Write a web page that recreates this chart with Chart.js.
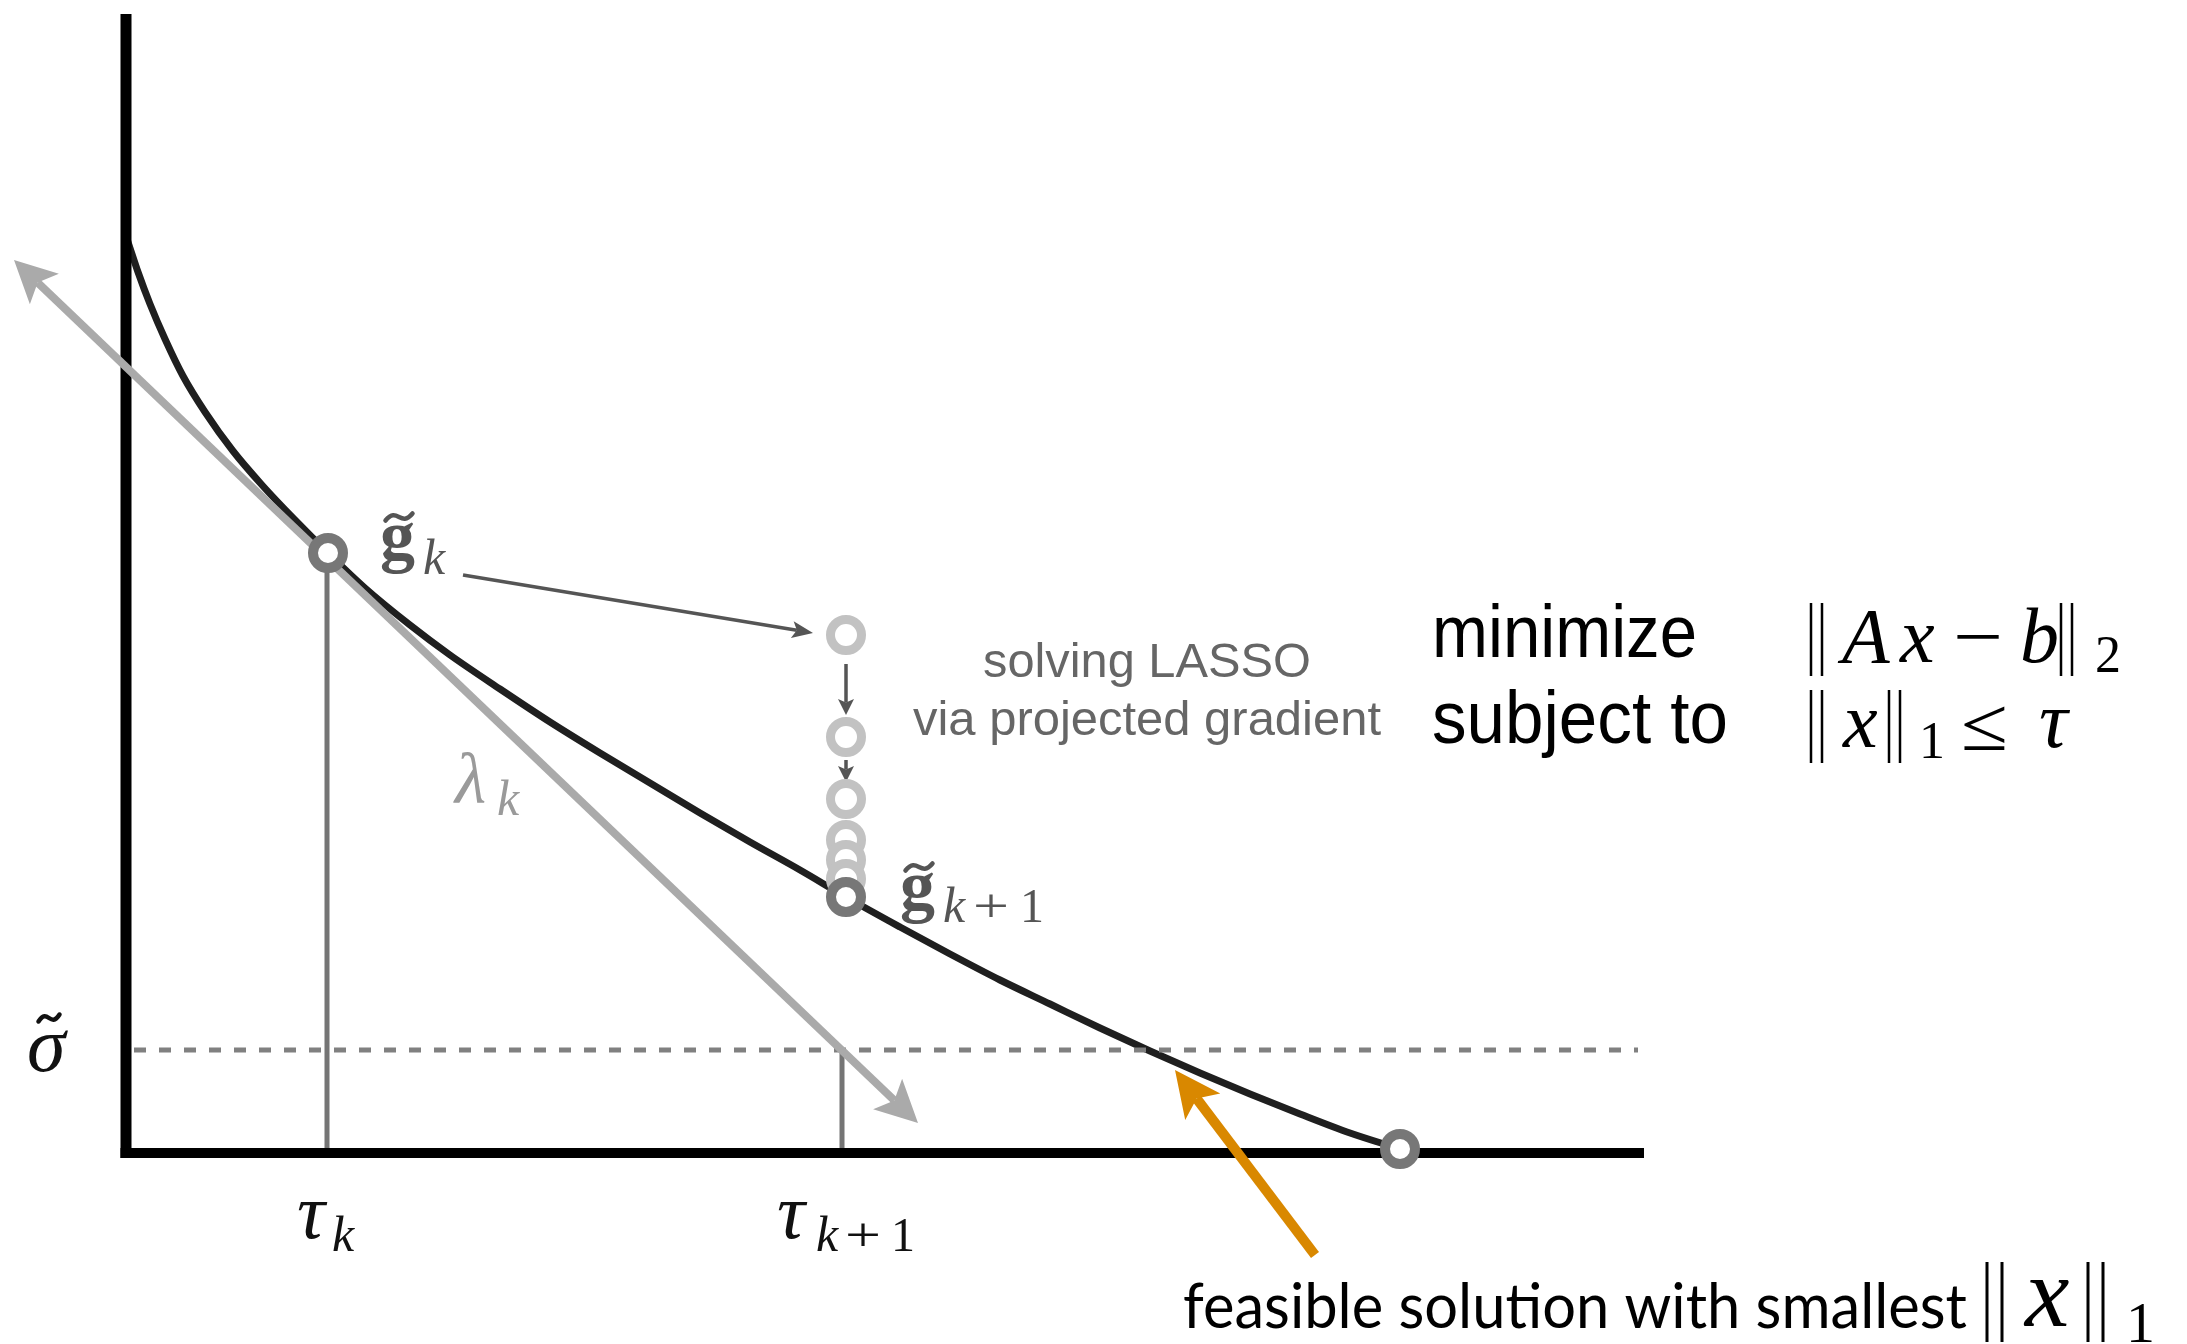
<!DOCTYPE html>
<html>
<head>
<meta charset="utf-8">
<script src="https://cdn.jsdelivr.net/npm/chart.js@4.4.1/dist/chart.umd.min.js"></script>
<style>
  html, body { margin: 0; padding: 0; background: #fff; overflow: hidden; }
  canvas { display: block; }
</style>
</head>
<body>
<canvas id="pareto" width="2187" height="1344"></canvas>
<script>
// ---- Pareto curve: residual sigma as a function of the one-norm budget tau ----
const paretoTau   = [0.01, 0.03, 0.12, 0.24, 0.39, 0.57, 0.79, 1.07, 1.36, 1.69, 2.02, 2.39, 2.84, 3.24, 3.74, 4.24, 4.74,
                     5.24, 5.74, 6.24, 6.74, 7.20, 7.74, 8.24, 8.74, 9.24, 9.74, 10.24, 10.74, 11.24, 11.74, 12.24, 12.74];
const paretoSigma = [9.13, 9.07, 8.80, 8.48, 8.13, 7.76, 7.40, 7.01, 6.67, 6.32, 5.99, 5.64, 5.27, 4.97, 4.63, 4.30, 3.99,
                     3.69, 3.39, 3.10, 2.82, 2.55, 2.25, 1.98, 1.72, 1.48, 1.24, 1.01, 0.79, 0.58, 0.38, 0.19, 0.03];

// Newton iterates on the curve
const gTau   = [2.02, 7.20];   // g_k, g_{k+1}
const gSigma = [5.99, 2.55];

// Projected-gradient (LASSO) iterates between g_k and g_{k+1}
const lassoTau   = [7.20, 7.20, 7.20, 7.20, 7.20, 7.20];
const lassoSigma = [5.17, 4.15, 3.53, 3.12, 2.92, 2.73];

// Root of the curve (smallest feasible one-norm)
const rootTau = [12.74];
const rootSigma = [0.03];

// Target misfit level and the two tau values
const sigmaTilde = 1.02;
const tauTicks = [2.01, 7.16];

// Tangent (slope lambda_k) through g_k, as a two-headed arrow
const tangentTau   = [-1.12, 7.92];
const tangentSigma = [8.92, 0.29];

// Pointer arrows: [tauFrom, sigmaFrom, tauTo, sigmaTo]
const labelArrow  = [3.37, 5.77, 6.87, 5.19];
const stepArrows  = [[7.20, 4.88, 7.20, 4.37], [7.20, 3.92, 7.20, 3.70]];
const rootArrow   = [11.89, -1.03, 10.49, 0.82];

// Axis extents
const axisTauMax = 15.18;
const axisSigmaMax = 11.38;
const dashTauRange = [0.08, 15.12];

const zip = (xs, ys) => xs.map((x, i) => ({ x, y: ys[i] }));

const SERIF = '"Liberation Serif", serif';
const SANS = '"Liberation Sans", Arial, sans-serif';

function drawArrow(ctx, x0, y0, x1, y1, o) {
  const dx = x1 - x0, dy = y1 - y0, L = Math.hypot(dx, dy);
  const ux = dx / L, uy = dy / L;
  const notch = o.len * 0.78;
  const s0 = o.both ? notch : 0;
  ctx.save();
  ctx.strokeStyle = o.color;
  ctx.fillStyle = o.color;
  ctx.lineWidth = o.width;
  ctx.lineCap = 'butt';
  ctx.beginPath();
  ctx.moveTo(x0 + ux * s0, y0 + uy * s0);
  ctx.lineTo(x1 - ux * notch, y1 - uy * notch);
  ctx.stroke();
  const head = (tx, ty, vx, vy) => {
    const bx = tx - vx * o.len, by = ty - vy * o.len;
    const nx = -vy, ny = vx;
    ctx.beginPath();
    ctx.moveTo(tx, ty);
    ctx.lineTo(bx + nx * o.half, by + ny * o.half);
    ctx.lineTo(tx - vx * notch, ty - vy * notch);
    ctx.lineTo(bx - nx * o.half, by - ny * o.half);
    ctx.closePath();
    ctx.fill();
  };
  head(x1, y1, ux, uy);
  if (o.both) head(x0, y0, -ux, -uy);
  ctx.restore();
}

function text(ctx, s, x, y, font, color, opt = {}) {
  ctx.save();
  ctx.font = font;
  ctx.fillStyle = color;
  ctx.textBaseline = 'alphabetic';
  const w = ctx.measureText(s).width;
  const sx = opt.width ? opt.width / w : 1;
  let left = x;
  if (opt.align === 'center') left = x - (w * sx) / 2;
  ctx.translate(left, y);
  ctx.scale(sx, 1);
  ctx.textAlign = 'left';
  ctx.fillText(s, 0, 0);
  ctx.restore();
}

function tilde(ctx, cx, cy, w, h, lw, color) {
  ctx.save();
  ctx.strokeStyle = color;
  ctx.lineWidth = lw;
  ctx.lineCap = 'round';
  ctx.beginPath();
  ctx.moveTo(cx - w / 2, cy + h / 2);
  ctx.bezierCurveTo(cx - w * 0.05, cy - h * 1.6, cx + w * 0.05, cy + h * 1.6, cx + w / 2, cy - h / 2);
  ctx.stroke();
  ctx.restore();
}

function bars(ctx, x, top, bottom, gap, lw, color) {
  ctx.save();
  ctx.strokeStyle = color;
  ctx.lineWidth = lw;
  ctx.beginPath();
  ctx.moveTo(x, top); ctx.lineTo(x, bottom);
  ctx.moveTo(x + gap, top); ctx.lineTo(x + gap, bottom);
  ctx.stroke();
  ctx.restore();
}

let X_AXIS_INDEX = -1;

const overlay = {
  id: 'paretoOverlay',
  afterDatasetDraw(chart, args) {
    if (args.index !== X_AXIS_INDEX) return;
    const ctx = chart.ctx, xs = chart.scales.x, ys = chart.scales.y;
    const px = v => xs.getPixelForValue(v), py = v => ys.getPixelForValue(v);
    // tangent with slope lambda_k
    drawArrow(ctx, px(tangentTau[0]), py(tangentSigma[0]), px(tangentTau[1]), py(tangentSigma[1]),
      { color: '#aaaaaa', width: 8, len: 42, half: 21, both: true });
    // g_k -> first LASSO iterate
    drawArrow(ctx, px(labelArrow[0]), py(labelArrow[1]), px(labelArrow[2]), py(labelArrow[3]),
      { color: '#555555', width: 3.5, len: 21, half: 8.5 });
    for (const a of stepArrows) {
      drawArrow(ctx, px(a[0]), py(a[1]), px(a[2]), py(a[3]),
        { color: '#555555', width: 3.5, len: 16, half: 8 });
    }
  },
  afterDatasetsDraw(chart) {
    const ctx = chart.ctx, xs = chart.scales.x, ys = chart.scales.y;
    const px = v => xs.getPixelForValue(v), py = v => ys.getPixelForValue(v);

    // feasible-solution pointer
    drawArrow(ctx, px(rootArrow[0]), py(rootArrow[1]), px(rootArrow[2]), py(rootArrow[3]),
      { color: '#d98800', width: 10, len: 46, half: 22 });

    // labels of the iterates
    const gkx = px(gTau[0]), gky = py(gSigma[0]);
    text(ctx, 'g', gkx + 52, gky + 6, `bold 70px ${SERIF}`, '#555555');
    tilde(ctx, gkx + 71, gky + 6 - 42, 27, 7, 4.5, '#555555');
    text(ctx, 'k', gkx + 95, gky + 21, `italic 50px ${SERIF}`, '#555555');

    const g1x = px(gTau[1]), g1y = py(gSigma[1]);
    text(ctx, 'g', g1x + 54, g1y + 12, `bold 70px ${SERIF}`, '#555555');
    tilde(ctx, g1x + 73, g1y + 12 - 42, 27, 7, 4.5, '#555555');
    text(ctx, 'k', g1x + 97, g1y + 25, `italic 50px ${SERIF}`, '#555555');
    text(ctx, '+', g1x + 145, g1y + 25, `48px ${SERIF}`, '#555555', { align: 'center', width: 36 });
    text(ctx, '1', g1x + 174, g1y + 25, `48px ${SERIF}`, '#555555');

    // slope label
    text(ctx, 'λ', 455, 803, `italic 72px ${SERIF}`, '#9a9a9a');
    text(ctx, 'k', 497, 815, `italic 50px ${SERIF}`, '#9a9a9a');

    // tau ticks
    const t0 = px(tauTicks[0]), t1 = px(tauTicks[1]);
    text(ctx, 'τ', t0 - 30, 1238, `italic 78px ${SERIF}`, '#111');
    text(ctx, 'k', t0 + 5, 1251, `italic 50px ${SERIF}`, '#111');
    text(ctx, 'τ', t1 - 65, 1238, `italic 78px ${SERIF}`, '#111');
    text(ctx, 'k', t1 - 26, 1251, `italic 50px ${SERIF}`, '#111');
    text(ctx, '+', t1 + 21, 1251, `48px ${SERIF}`, '#111', { align: 'center', width: 36 });
    text(ctx, '1', t1 + 49, 1251, `48px ${SERIF}`, '#111');

    // sigma tilde on the vertical axis
    const sy = py(sigmaTilde);
    text(ctx, 'σ', 27, sy + 21, `italic 78px ${SERIF}`, '#111');
    tilde(ctx, 49, sy - 32, 21, 7, 4.5, '#111');

    // LASSO note
    text(ctx, 'solving LASSO', 1147, 677, `48px ${SANS}`, '#666666', { align: 'center', width: 328 });
    text(ctx, 'via projected gradient', 1147, 735, `48px ${SANS}`, '#666666', { align: 'center', width: 468 });

    // problem statement
    text(ctx, 'minimize', 1432, 657, `75px ${SANS}`, '#000', { width: 265 });
    text(ctx, 'subject to', 1432, 743, `75px ${SANS}`, '#000', { width: 296 });

    bars(ctx, 1811, 603, 676, 11, 2.5, '#000');
    text(ctx, 'A', 1842, 662, `italic 78px ${SERIF}`, '#000');
    text(ctx, 'x', 1900, 662, `italic 78px ${SERIF}`, '#000');
    text(ctx, '\u2212', 1953, 662, `76px ${SERIF}`, '#000', { width: 50 });
    text(ctx, 'b', 2020, 662, `italic 78px ${SERIF}`, '#000');
    bars(ctx, 2061, 603, 676, 11, 2.5, '#000');
    text(ctx, '2', 2095, 672, `52px ${SERIF}`, '#000');

    bars(ctx, 1811, 690, 763, 11, 2.5, '#000');
    text(ctx, 'x', 1843, 747, `italic 78px ${SERIF}`, '#000');
    bars(ctx, 1889, 690, 763, 11, 2.5, '#000');
    text(ctx, '1', 1919, 758, `52px ${SERIF}`, '#000');
    text(ctx, '\u2264', 1961, 750, `76px ${SERIF}`, '#000', { width: 47 });
    text(ctx, 'τ', 2039, 747, `italic 80px ${SERIF}`, '#000');

    // caption of the root
    text(ctx, 'feasible solution with smallest', 1183, 1328, `62px Lato, "Open Sans", sans-serif`, '#000', { width: 784 });
    bars(ctx, 1987, 1262, 1342, 15, 3, '#000');
    text(ctx, 'x', 2025, 1326, `italic 100px ${SERIF}`, '#000');
    bars(ctx, 2088, 1262, 1342, 15, 3, '#000');
    text(ctx, '1', 2126, 1342, `58px ${SERIF}`, '#000');
  }
};

const lineDs = (data, color, width, order, extra = {}) => Object.assign({
  data, showLine: true, borderColor: color, borderWidth: width, pointRadius: 0,
  borderCapStyle: 'butt', fill: false, order
}, extra);

const datasets = [
  lineDs(zip(paretoTau, paretoSigma), '#1f1f1f', 7, 10, { cubicInterpolationMode: 'monotone' }),
  lineDs([{ x: tauTicks[0], y: gSigma[0] }, { x: tauTicks[0], y: 0 }], '#757575', 5, 9),
  lineDs([{ x: tauTicks[1], y: sigmaTilde }, { x: tauTicks[1], y: 0 }], '#757575', 5, 9),
  lineDs([{ x: dashTauRange[0], y: sigmaTilde }, { x: dashTauRange[1], y: sigmaTilde }], '#808080', 5, 8,
    { borderDash: [12, 13] }),
  lineDs([{ x: 0, y: axisSigmaMax }, { x: 0, y: -0.06 }], '#000', 11, 7),
  lineDs([{ x: -0.055, y: -0.01 }, { x: axisTauMax, y: -0.01 }], '#000', 10, 6),
  {
    data: zip(lassoTau, lassoSigma), showLine: false, order: 3,
    pointRadius: 15.5, pointBorderWidth: 9, pointBackgroundColor: '#fff', pointBorderColor: '#c2c2c2'
  },
  {
    data: zip(gTau, gSigma).concat(zip(rootTau, rootSigma)), showLine: false, order: 2,
    pointRadius: 15, pointBorderWidth: 10, pointBackgroundColor: '#fff', pointBorderColor: '#777777'
  }
];
X_AXIS_INDEX = 5;

new Chart(document.getElementById('pareto'), {
  type: 'scatter',
  data: { datasets },
  options: {
    responsive: false,
    animation: false,
    devicePixelRatio: 1,
    layout: { padding: 0, autoPadding: false },
    events: [],
    plugins: { legend: { display: false }, tooltip: { enabled: false } },
    scales: {
      x: { type: 'linear', display: false, min: -1.26, max: 20.61 },
      y: { type: 'linear', display: false, min: -1.92, max: 11.52 }
    }
  },
  plugins: [overlay]
});
</script>
</body>
</html>
